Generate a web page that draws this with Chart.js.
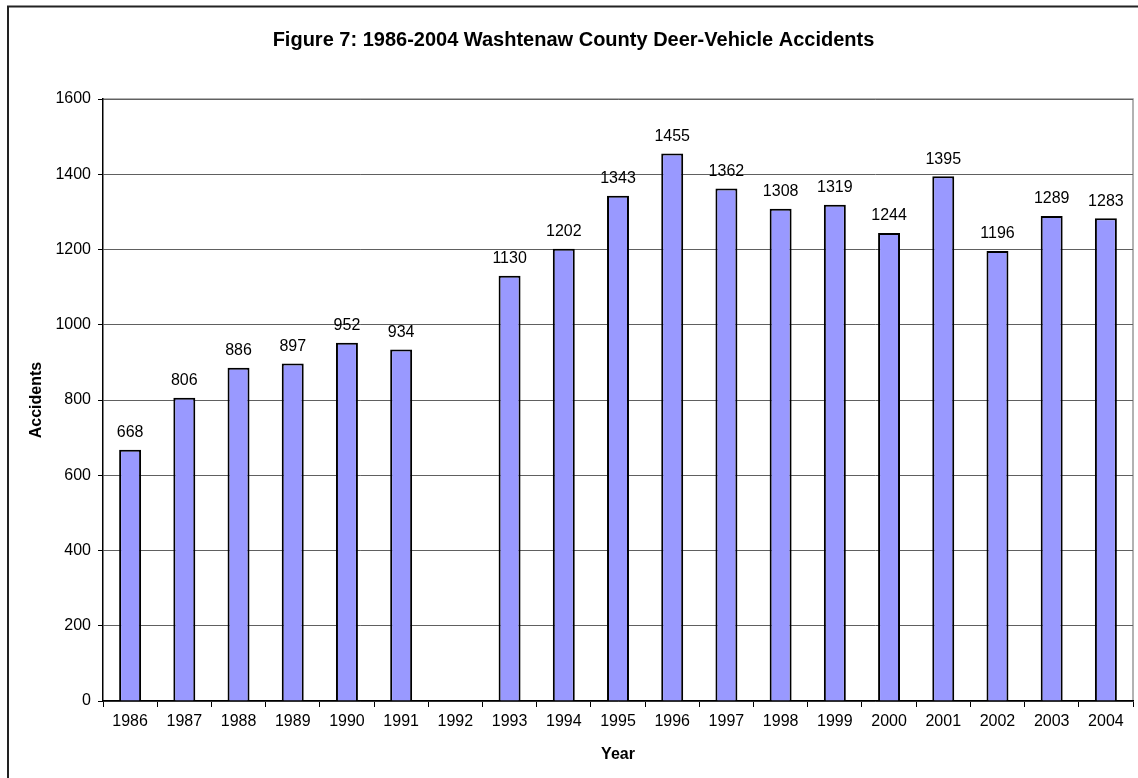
<!DOCTYPE html>
<html>
<head>
<meta charset="utf-8">
<script src="https://cdn.jsdelivr.net/npm/chart.js@4"></script>
<style>
  html, body { margin: 0; padding: 0; background: #fff; }
  #wrap { width: 1138px; height: 778px; position: relative; }
</style>
</head>
<body>
<div id="wrap"><canvas id="deerChart"></canvas></div>
<script>
// chart data
const years = ["1986", "1987", "1988", "1989", "1990", "1991", "1992", "1993", "1994", "1995",
  "1996", "1997", "1998", "1999", "2000", "2001", "2002", "2003", "2004"];
const accidents = [668, 806, 886, 897, 952, 934, null, 1130, 1202, 1343,
  1455, 1362, 1308, 1319, 1244, 1395, 1196, 1289, 1283];
const yTicks = [0, 200, 400, 600, 800, 1000, 1200, 1400, 1600];

const FONT = "'Liberation Sans', Arial, sans-serif";

//outer frame + gray plot border
const framePlugin = {
  id: "frame",
  beforeDraw(chart) {
    const ctx = chart.ctx;
    const a = chart.chartArea;
    ctx.save();
    ctx.strokeStyle = "#222";
    ctx.lineWidth = 2;
    ctx.beginPath();
    ctx.moveTo(8, 800);
    ctx.lineTo(8, 6.5);
    ctx.lineTo(1140, 6.5);
    ctx.stroke();
    ctx.strokeStyle = "#999";
    ctx.lineWidth = 1.5;
    ctx.beginPath();
    ctx.moveTo(a.left, a.top);
    ctx.lineTo(a.right, a.top);
    ctx.lineTo(a.right, a.bottom);
    ctx.stroke();
    ctx.restore();
  },
};

//value labels above each bar
const valueLabels = {
  id: "valueLabels",
  afterDatasetsDraw(chart) {
    const ctx = chart.ctx;
    const meta = chart.getDatasetMeta(0);
    ctx.save();
    ctx.font = "16px " + FONT;
    ctx.fillStyle = "#000";
    ctx.textAlign = "center";
    ctx.textBaseline = "middle";
    meta.data.forEach((bar, i) => {
      const v = accidents[i];
      if (v === null) return;
      ctx.fillText(String(v), bar.x, bar.y - 17);
    });
    ctx.restore();
  },
};

new Chart("deerChart", {
  type: "bar",
  data: {
    labels: years,
    datasets: [
      {
        data: accidents,
        backgroundColor: "#9999FF",
        borderColor: "#000",
        borderWidth: 2,
        categoryPercentage: 1,
        barPercentage: 0.405,
      },
    ],
  },
  options: {
    responsive: true,
    maintainAspectRatio: false,
    animation: false,
    layout: { padding: { left: 14, right: 5, top: 0, bottom: 0 } },
    plugins: {
      legend: { display: false },
      tooltip: { enabled: false },
      title: {
        display: true,
        text: "Figure 7: 1986-2004 Washtenaw County Deer-Vehicle Accidents",
        color: "#000",
        font: { family: FONT, size: 20, weight: "bold" },
        padding: { top: 28, bottom: 47 },
      },
    },
    scales: {
      x: {
        afterFit(scale) {
          scale.height = 77;
        },
        grid: {
          offset: true,
          drawOnChartArea: false,
          tickLength: 6,
          tickColor: "#000",
        },
        border: { color: "#000", width: 1.5 },
        ticks: {
          color: "#000",
          font: { family: FONT, size: 16 },
          padding: 5,
          maxRotation: 0,
          autoSkip: false,
        },
        title: {
          display: true,
          text: "Year",
          color: "#000",
          font: { family: FONT, size: 16, weight: "bold" },
          padding: { top: 0, bottom: 14 },
        },
      },
      y: {
        min: yTicks[0],
        max: yTicks[yTicks.length - 1],
        afterFit(scale) {
          scale.width = 89;
        },
        afterBuildTicks(scale) {
          scale.ticks = yTicks.map((v) => ({ value: v }));
        },
        grid: {
          color: "#606060",
          lineWidth: 1,
          tickLength: 5,
          tickColor: "#000",
        },
        border: { color: "#000", width: 1.5 },
        ticks: {
          color: "#000",
          font: { family: FONT, size: 16 },
          padding: 7,
          callback: (v) => String(v),
        },
        title: {
          display: true,
          text: "Accidents",
          color: "#000",
          font: { family: FONT, size: 16, weight: "bold" },
          padding: { top: 13, bottom: 0 },
        },
      },
    },
  },
  plugins: [framePlugin, valueLabels],
});
</script>
</body>
</html>
